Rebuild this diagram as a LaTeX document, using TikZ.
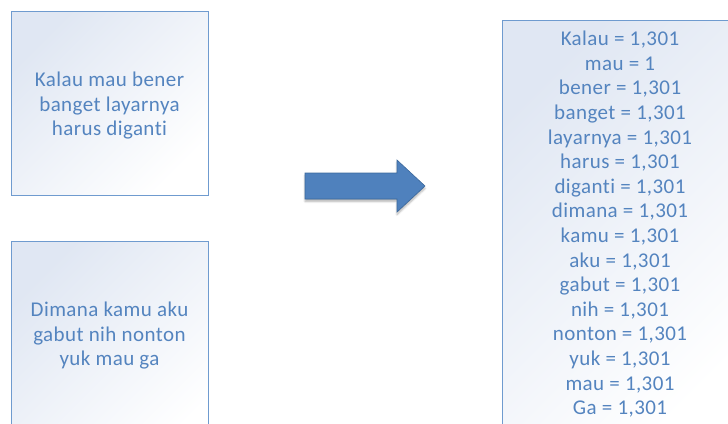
\documentclass[tikz,border=0pt]{standalone}
\usepackage{fontspec}
\setmainfont{Carlito}[Ligatures=NoCommon, LetterSpace=2]
\usetikzlibrary{shadows.blur}
\definecolor{boxline}{HTML}{6F9BCF}
\definecolor{boxtext}{HTML}{5484BF}
\definecolor{boxtint}{HTML}{E0E7F3}
\definecolor{arrowfill}{HTML}{4F81BD}
\definecolor{arrowline}{HTML}{3B689C}
\tikzset{
  framebox/.style={draw=boxline, line width=1.3pt, left color=boxtint, right color=white,
    shading angle=45, inner sep=0pt},
  wordtext/.style={text=boxtext, align=center, inner sep=0pt, anchor=north,
    font=\fontsize{21}{24.6}\selectfont},
  bigarrow/.style={fill=arrowfill, draw=arrowline, line width=0.6pt,
    blur shadow={shadow xshift=0pt, shadow yshift=-2.5pt, shadow blur steps=6, shadow opacity=30}}
}
\begin{document}
\begin{tikzpicture}[x=1pt,y=-1pt]
  \useasboundingbox (0,0) rectangle (728,423);
  % source sentences
  \node[framebox, minimum width=197pt, minimum height=184pt, anchor=north west] (first) at (11,11) {};
  \node[wordtext] (firsttext) at (109.5,72)
    {Kalau mau bener\\banget layarnya\\harus diganti};
  \node[framebox, minimum width=197pt, minimum height=220pt, anchor=north west] (second) at (11,241) {};
  \node[wordtext] (secondtext) at (109.5,302)
    {Dimana kamu aku\\gabut nih nonton\\yuk mau ga};
  % transformation arrow
  \path[bigarrow] (305,173) -- (397,173) -- (397,160) -- (425,186) -- (397,212)
    -- (397,199) -- (305,199) -- cycle;
  % weighted terms
  \node[framebox, minimum width=236pt, minimum height=430pt, anchor=north west] (weights) at (502,20) {};
  \node[wordtext] (weightstext) at (620,31)
    {Kalau = 1,301\\mau = 1\\bener = 1,301\\banget = 1,301\\layarnya = 1,301\\
     harus = 1,301\\diganti = 1,301\\dimana = 1,301\\kamu = 1,301\\aku = 1,301\\
     gabut = 1,301\\nih = 1,301\\nonton = 1,301\\yuk = 1,301\\mau = 1,301\\Ga = 1,301};
\end{tikzpicture}
\end{document}
